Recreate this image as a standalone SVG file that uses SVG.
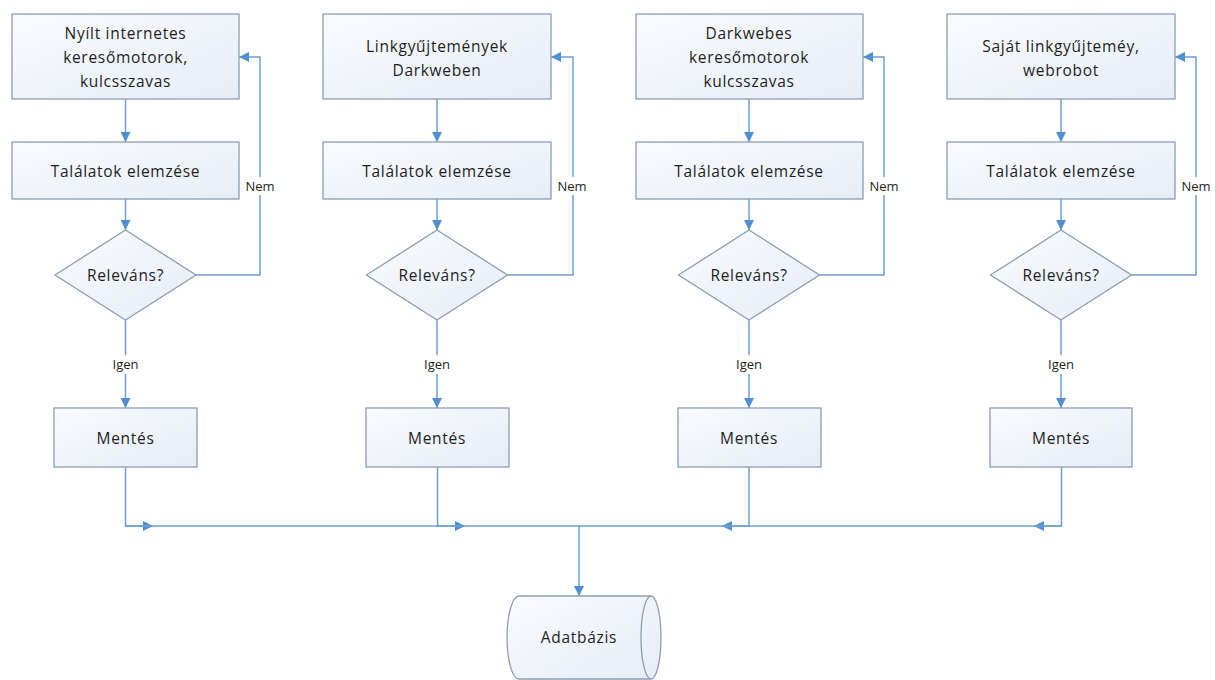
<svg xmlns="http://www.w3.org/2000/svg" width="1215" height="680" viewBox="0 0 1215 680">
<defs>
<linearGradient id="gf" x1="0" y1="0" x2="1" y2="1">
<stop offset="0" stop-color="#f9fbfe"/>
<stop offset="1" stop-color="#e6edf7"/>
</linearGradient>
<marker id="ah" viewBox="0 0 10 10" refX="10" refY="5" markerWidth="10" markerHeight="10" markerUnits="userSpaceOnUse" orient="auto">
<path d="M0,0 L10,5 L0,10 z" fill="#4f8ed0"/>
</marker>
<style>
.box{fill:url(#gf);stroke:#8c9db3;stroke-width:1.3}
.t{font-family:"Open Sans","Noto Sans",sans-serif;font-size:15.5px;fill:#1e1e1e;text-anchor:middle;letter-spacing:0.7px}
.s{font-family:"Open Sans","Noto Sans",sans-serif;font-size:13px;fill:#1e1e1e;text-anchor:middle}
.c{fill:none;stroke:#6a9fd4;stroke-width:1.5}
.lbl{fill:#fff}
</style>
</defs>
<rect width="1215" height="680" fill="#fff"/>

<g id="connectors">
<!-- column 1 -->
<line class="c" x1="125.5" y1="99" x2="125.5" y2="142" marker-end="url(#ah)"/>
<line class="c" x1="125.5" y1="199" x2="125.5" y2="230" marker-end="url(#ah)"/>
<polyline class="c" points="196,275 260,275 260,57 239,57" marker-end="url(#ah)"/>
<line class="c" x1="125.5" y1="320" x2="125.5" y2="408" marker-end="url(#ah)"/>
<polyline class="c" points="125.5,467 125.5,526 153,526" marker-end="url(#ah)"/>
<!-- column 2 -->
<line class="c" x1="437" y1="99" x2="437" y2="142" marker-end="url(#ah)"/>
<line class="c" x1="437" y1="199" x2="437" y2="230" marker-end="url(#ah)"/>
<polyline class="c" points="507.5,275 573,275 573,57 551,57" marker-end="url(#ah)"/>
<line class="c" x1="437" y1="320" x2="437" y2="408" marker-end="url(#ah)"/>
<polyline class="c" points="437.5,467 437.5,526 465,526" marker-end="url(#ah)"/>
<!-- column 3 -->
<line class="c" x1="749" y1="99" x2="749" y2="142" marker-end="url(#ah)"/>
<line class="c" x1="749" y1="199" x2="749" y2="230" marker-end="url(#ah)"/>
<polyline class="c" points="819.5,275 884,275 884,57 863,57" marker-end="url(#ah)"/>
<line class="c" x1="749" y1="320" x2="749" y2="408" marker-end="url(#ah)"/>
<polyline class="c" points="749,467 749,526 722,526" marker-end="url(#ah)"/>
<!-- column 4 -->
<line class="c" x1="1061" y1="99" x2="1061" y2="142" marker-end="url(#ah)"/>
<line class="c" x1="1061" y1="199" x2="1061" y2="230" marker-end="url(#ah)"/>
<polyline class="c" points="1131.5,275 1196,275 1196,57 1175,57" marker-end="url(#ah)"/>
<line class="c" x1="1061" y1="320" x2="1061" y2="408" marker-end="url(#ah)"/>
<polyline class="c" points="1061.5,467 1061.5,526 1034,526" marker-end="url(#ah)"/>
<!-- bus and drop -->
<line class="c" x1="125.5" y1="526" x2="1061.5" y2="526"/>
<line class="c" x1="579" y1="526" x2="579" y2="596" marker-end="url(#ah)"/>
<!-- labels -->
<rect class="lbl" x="243" y="177" width="34" height="18"/>
<text class="s" x="260" y="191">Nem</text>
<rect class="lbl" x="555" y="177" width="34" height="18"/>
<text class="s" x="572" y="191">Nem</text>
<rect class="lbl" x="867" y="177" width="34" height="18"/>
<text class="s" x="884" y="191">Nem</text>
<rect class="lbl" x="1179" y="177" width="34" height="18"/>
<text class="s" x="1196" y="191">Nem</text>
<rect class="lbl" x="109" y="355" width="33" height="19"/>
<text class="s" x="125.5" y="369">Igen</text>
<rect class="lbl" x="421" y="355" width="33" height="19"/>
<text class="s" x="437" y="369">Igen</text>
<rect class="lbl" x="732" y="355" width="33" height="19"/>
<text class="s" x="749" y="369">Igen</text>
<rect class="lbl" x="1044" y="355" width="33" height="19"/>
<text class="s" x="1061" y="369">Igen</text>
</g>

<g id="src1">
<rect class="box" x="12" y="14" width="227" height="85"/>
<text class="t" x="125.5" y="39">Nyílt internetes</text>
<text class="t" x="125.5" y="63">keresőmotorok,</text>
<text class="t" x="125.5" y="87">kulcsszavas</text>
</g>
<g id="anal1">
<rect class="box" x="12" y="142" width="227" height="57"/>
<text class="t" x="125.5" y="177">Találatok elemzése</text>
</g>
<g id="dec1">
<polygon class="box" points="125.5,230 196,275 125.5,320 55,275"/>
<text class="t" x="125.5" y="281">Releváns?</text>
</g>
<g id="save1">
<rect class="box" x="54" y="408" width="143" height="59"/>
<text class="t" x="125.5" y="444">Mentés</text>
</g>

<g id="src2">
<rect class="box" x="323" y="14" width="228" height="85"/>
<text class="t" x="437" y="52">Linkgyűjtemények</text>
<text class="t" x="437" y="76">Darkweben</text>
</g>
<g id="anal2">
<rect class="box" x="323" y="142" width="228" height="57"/>
<text class="t" x="437" y="177">Találatok elemzése</text>
</g>
<g id="dec2">
<polygon class="box" points="437,230 507.5,275 437,320 366.5,275"/>
<text class="t" x="437" y="281">Releváns?</text>
</g>
<g id="save2">
<rect class="box" x="366" y="408" width="143" height="59"/>
<text class="t" x="437" y="444">Mentés</text>
</g>

<g id="src3">
<rect class="box" x="636" y="14" width="227" height="85"/>
<text class="t" x="749" y="39">Darkwebes</text>
<text class="t" x="749" y="63">keresőmotorok</text>
<text class="t" x="749" y="87">kulcsszavas</text>
</g>
<g id="anal3">
<rect class="box" x="636" y="142" width="227" height="57"/>
<text class="t" x="749" y="177">Találatok elemzése</text>
</g>
<g id="dec3">
<polygon class="box" points="749,230 819.5,275 749,320 678.5,275"/>
<text class="t" x="749" y="281">Releváns?</text>
</g>
<g id="save3">
<rect class="box" x="678" y="408" width="143" height="59"/>
<text class="t" x="749" y="444">Mentés</text>
</g>

<g id="src4">
<rect class="box" x="947" y="14" width="228" height="85"/>
<text class="t" x="1061" y="52">Saját linkgyűjteméy,</text>
<text class="t" x="1061" y="76">webrobot</text>
</g>
<g id="anal4">
<rect class="box" x="947" y="142" width="228" height="57"/>
<text class="t" x="1061" y="177">Találatok elemzése</text>
</g>
<g id="dec4">
<polygon class="box" points="1061,230 1131.5,275 1061,320 990.5,275"/>
<text class="t" x="1061" y="281">Releváns?</text>
</g>
<g id="save4">
<rect class="box" x="990" y="408" width="142" height="59"/>
<text class="t" x="1061" y="444">Mentés</text>
</g>

<g id="db">
<path class="box" d="M519,596 L651,596 A10,41.5 0 0 1 651,679 L519,679 A12,41.5 0 0 1 519,596 z"/>
<path d="M651,596 A10,41.5 0 0 0 651,679" fill="none" stroke="#8c9db3" stroke-width="1.3"/>
<text class="t" x="579" y="643">Adatbázis</text>
</g>
</svg>
